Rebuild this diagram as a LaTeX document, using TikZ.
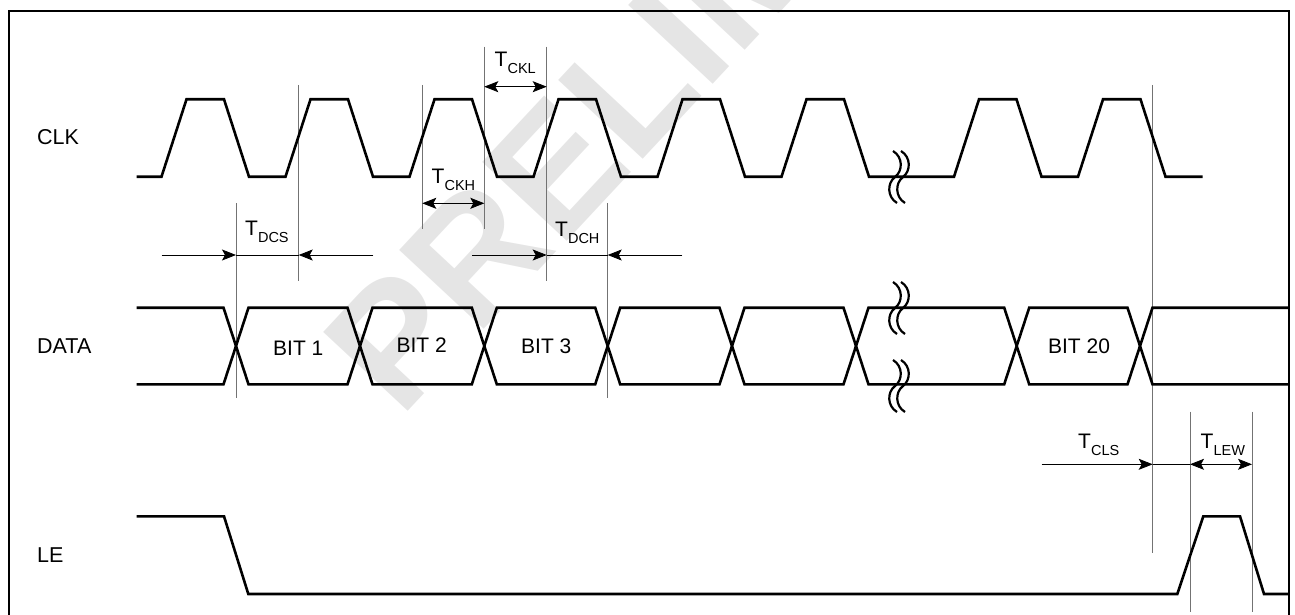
\documentclass[tikz,border=0pt]{standalone}
\usepackage{fontspec}
\setmainfont{Liberation Sans}
\usetikzlibrary{arrows.meta}
\newcommand{\tlabel}[2]{{\fontsize{21}{21}\selectfont #1}\raisebox{-7pt}{\fontsize{14.5}{14.5}\selectfont #2}}
\begin{document}
\begin{tikzpicture}[x=1pt,y=-1pt,
  wave/.style={line width=2.6pt, line join=miter},
  guide/.style={line width=1pt, draw=black!55},
  dimline/.style={line width=0.8pt},
  tipr/.style={dimline, -{Stealth[length=14pt,width=11pt,inset=3pt]}},
  tipb/.style={dimline, {Stealth[length=14pt,width=11pt,inset=3pt]}-{Stealth[length=14pt,width=11pt,inset=3pt]}},
  sig/.style={font=\fontsize{21.5}{22}\selectfont, anchor=west, inner sep=0pt},
  bit/.style={font=\fontsize{21}{22}\selectfont, inner sep=0pt},
  tl/.style={anchor=base west, inner sep=0pt},
  brkstroke/.style={line width=2.2pt},
  wavebreak/.pic={
    \draw[brkstroke] (-6,-26) .. controls (4,-20) and (4,-6) .. (-4,0) .. controls (-12,6) and (-12,20) .. (-2,26);
    \draw[brkstroke] (2,-26) .. controls (12,-20) and (12,-6) .. (4,0) .. controls (-4,6) and (-4,20) .. (6,26);
  }]
\useasboundingbox (0,0) rectangle (1295,615);
\clip (0,0) rectangle (1295,615);
% watermark
\node[rotate=47, anchor=base west, inner sep=0pt, text=black!10, font=\fontsize{168}{168}\selectfont\bfseries] (wm) at (400,420) {PRELIMINARY};
% border
\draw[line width=2pt] (9,630) -- (9,11) -- (1289,11) -- (1289,630);
% signal names
\node[sig] (clk) at (37,137) {CLK};
\node[sig] (data) at (37,346) {DATA};
\node[sig] (le) at (37,555) {LE};
% guide lines
\coordinate (g1a) at (236,203); \coordinate (g1b) at (236,398);
\coordinate (g2a) at (298.7,85); \coordinate (g2b) at (298.7,281);
\coordinate (g3a) at (422.3,85); \coordinate (g3b) at (422.3,229.3);
\coordinate (g4a) at (484.3,46.7); \coordinate (g4b) at (484.3,229.3);
\coordinate (g5a) at (546.7,46.7); \coordinate (g5b) at (546.7,281);
\coordinate (g6a) at (607.7,203.3); \coordinate (g6b) at (607.7,398.3);
\coordinate (g7a) at (1152.7,85); \coordinate (g7b) at (1152.7,553);
\coordinate (g8a) at (1190,411.7); \coordinate (g8b) at (1190,612);
\coordinate (g9a) at (1252,411.7); \coordinate (g9b) at (1252,612);
\foreach \g in {1,...,9} {\draw[guide] (g\g a) -- (g\g b);}
% CLK
\draw[wave] (136.7,176.7) \foreach \r in {174,298,422,546,670,794,966.5,1090.5} {
  -- (\r-12.5,176.7) -- (\r+12.5,99.3) -- (\r+50,99.3) -- (\r+75,176.7)} -- (1202.7,176.7);
\pic at (899,177) {wavebreak};
% DATA
\draw[wave] (136.7,307.7) -- (223.5,307.7) -- (248.5,384.3) -- (347.5,384.3) -- (372.5,307.7) -- (471.8,307.7) -- (496.8,384.3) -- (595.2,384.3) -- (620.2,307.7) -- (719.5,307.7) -- (744.5,384.3) -- (843.5,384.3) -- (868.5,307.7) -- (1004.2,307.7) -- (1029.2,384.3) -- (1127.5,384.3) -- (1152.5,307.7) -- (1289,307.7);
\draw[wave] (136.7,384.3) -- (223.5,384.3) -- (248.5,307.7) -- (347.5,307.7) -- (372.5,384.3) -- (471.8,384.3) -- (496.8,307.7) -- (595.2,307.7) -- (620.2,384.3) -- (719.5,384.3) -- (744.5,307.7) -- (843.5,307.7) -- (868.5,384.3) -- (1004.2,384.3) -- (1029.2,307.7) -- (1127.5,307.7) -- (1152.5,384.3) -- (1289,384.3);
\pic at (899,308) {wavebreak};
\pic at (899,386) {wavebreak};
\node[bit] (b1) at (298.3,348) {BIT 1};
\node[bit] (b2) at (421.7,345) {BIT 2};
\node[bit] (b3) at (546.3,346.5) {BIT 3};
\node[bit] (b20) at (1079,346) {BIT 20};
% LE
\draw[wave] (136.7,516.3) -- (224,516.3) -- (248.3,594) -- (1177.3,594) -- (1203.3,516.3) -- (1240,516.3) -- (1264,594) -- (1289,594);
% dimension arrows
\coordinate (dcs0) at (161.7,255); \coordinate (dcs1) at (236,255); \coordinate (dcs2) at (298.7,255); \coordinate (dcs3) at (373.3,255);
\draw[tipr] (dcs0) -- (dcs1);
\draw[dimline] (dcs1) -- (dcs2);
\draw[tipr] (dcs3) -- (dcs2);
\node[tl] (tdcs) at (245,235) {\tlabel{T}{DCS}};
\coordinate (dch0) at (472.3,255); \coordinate (dch1) at (546.7,255); \coordinate (dch2) at (607.7,255); \coordinate (dch3) at (682.3,255);
\draw[tipr] (dch0) -- (dch1);
\draw[dimline] (dch1) -- (dch2);
\draw[tipr] (dch3) -- (dch2);
\node[tl] (tdch) at (555,236.5) {\tlabel{T}{DCH}};
\coordinate (ckh0) at (422.3,203.3); \coordinate (ckh1) at (484.3,203.3);
\draw[tipb] (ckh0) -- (ckh1);
\node[tl] (tckh) at (431.5,183.3) {\tlabel{T}{CKH}};
\coordinate (ckl0) at (484.3,86.7); \coordinate (ckl1) at (546.7,86.7);
\draw[tipb] (ckl0) -- (ckl1);
\node[tl] (tckl) at (494.5,66.7) {\tlabel{T}{CKL}};
\coordinate (cls0) at (1041.7,464.3); \coordinate (cls1) at (1152.7,464.3); \coordinate (lew0) at (1190,464.3); \coordinate (lew1) at (1252,464.3);
\draw[tipr] (cls0) -- (cls1);
\draw[dimline] (cls1) -- (lew0);
\draw[tipb] (lew0) -- (lew1);
\node[tl] (tcls) at (1078,448.3) {\tlabel{T}{CLS}};
\node[tl] (tlew) at (1200.5,448.3) {\tlabel{T}{LEW}};
\end{tikzpicture}
\end{document}
